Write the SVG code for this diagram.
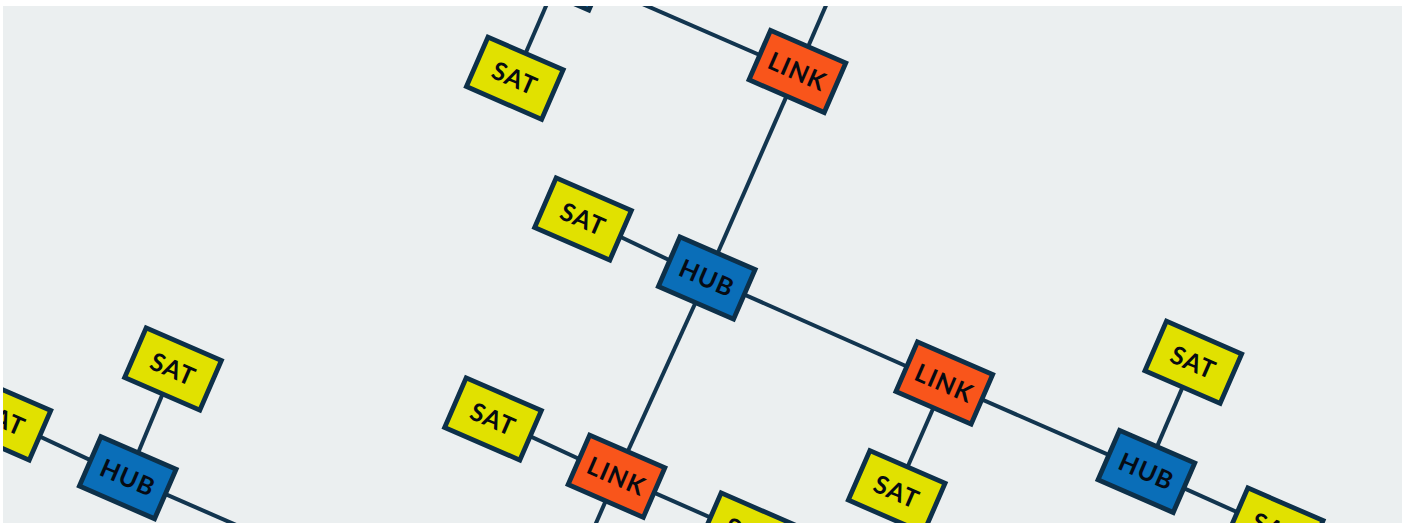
<svg xmlns="http://www.w3.org/2000/svg" width="1407" height="525" viewBox="0 0 1407 525">
<style>
.bg{fill:#ebeff0}
.edge{stroke:#12354f;stroke-width:4;fill:none;stroke-linecap:butt}
.box{stroke:#0d3049;stroke-width:4.8}
.hub{fill:#0a6eb8}
.link{fill:#f9551b}
.sat{fill:#e1e100}
.lbl{font-family:Lato,"Open Sans",sans-serif;font-weight:700;font-size:25px;letter-spacing:1px;fill:#060a12;text-anchor:middle}
</style>
<defs>
<clipPath id="frame"><rect x="3" y="6" width="1399" height="517"/></clipPath>
<rect id="nb" x="-41" y="-27" width="82" height="54"/>
</defs>
<rect width="1407" height="525" fill="#ffffff"/>
<g clip-path="url(#frame)">
<rect class="bg" x="3" y="6" width="1399" height="517"/>
<g id="connectors" class="edge">
<line x1="562" y1="-31" x2="797.4" y2="71.4"/>
<line x1="562" y1="-31" x2="514.8" y2="78.2"/>
<line x1="797.4" y1="71.4" x2="837" y2="-20"/>
<line x1="797.4" y1="71.4" x2="706.75" y2="278"/>
<line x1="583" y1="219" x2="706.75" y2="278"/>
<line x1="706.75" y1="278" x2="944.3" y2="383"/>
<line x1="944.3" y1="383" x2="1146.4" y2="471.4"/>
<line x1="944.3" y1="383" x2="896.7" y2="491.7"/>
<line x1="1146.4" y1="471.4" x2="1193.3" y2="362.3"/>
<line x1="1146.4" y1="471.4" x2="1274.7" y2="529"/>
<line x1="706.75" y1="278" x2="616.5" y2="476.2"/>
<line x1="616.5" y1="476.2" x2="493" y2="419"/>
<line x1="616.5" y1="476.2" x2="748" y2="534"/>
<line x1="616.5" y1="476.2" x2="584.5" y2="549.6"/>
<line x1="127.75" y1="477.65" x2="173" y2="369"/>
<line x1="127.75" y1="477.65" x2="2.4" y2="419"/>
<line x1="127.75" y1="477.65" x2="265.3" y2="537.7"/>
</g>
<g id="hub-tl" transform="translate(562,-31) rotate(23.5)"><use href="#nb" class="box hub"/><text class="lbl" y="9">HUB</text></g>
<g id="sat-tl" transform="translate(514.8,78.2) rotate(23.5)"><use href="#nb" class="box sat"/><text class="lbl" y="9">SAT</text></g>
<g id="link-t" transform="translate(797.4,71.4) rotate(23.5)"><use href="#nb" class="box link"/><text class="lbl" y="9">LINK</text></g>
<g id="sat-a" transform="translate(583,219) rotate(23.5)"><use href="#nb" class="box sat"/><text class="lbl" y="9">SAT</text></g>
<g id="hub-a" transform="translate(706.75,278) rotate(23.5)"><use href="#nb" class="box hub"/><text class="lbl" y="9">HUB</text></g>
<g id="link-r" transform="translate(944.3,383) rotate(23.5)"><use href="#nb" class="box link"/><text class="lbl" y="9">LINK</text></g>
<g id="sat-lr" transform="translate(896.7,491.7) rotate(23.5)"><use href="#nb" class="box sat"/><text class="lbl" y="9">SAT</text></g>
<g id="hub-r" transform="translate(1146.4,471.4) rotate(23.5)"><use href="#nb" class="box hub"/><text class="lbl" y="9">HUB</text></g>
<g id="sat-ra" transform="translate(1193.3,362.3) rotate(23.5)"><use href="#nb" class="box sat"/><text class="lbl" y="9">SAT</text></g>
<g id="sat-rr" transform="translate(1274.7,529) rotate(23.5)"><use href="#nb" class="box sat"/><text class="lbl" y="9">SAT</text></g>
<g id="link-b" transform="translate(616.5,476.2) rotate(23.5)"><use href="#nb" class="box link"/><text class="lbl" y="9">LINK</text></g>
<g id="sat-bl" transform="translate(493,419) rotate(23.5)"><use href="#nb" class="box sat"/><text class="lbl" y="9">SAT</text></g>
<g id="sat-br" transform="translate(748,534) rotate(23.5)"><use href="#nb" class="box sat"/><text class="lbl" y="9">SAT</text></g>
<g id="hub-bl" transform="translate(127.75,477.65) rotate(23.5)"><use href="#nb" class="box hub"/><text class="lbl" y="9">HUB</text></g>
<g id="sat-bla" transform="translate(173,369) rotate(23.5)"><use href="#nb" class="box sat"/><text class="lbl" y="9">SAT</text></g>
<g id="sat-bll" transform="translate(2.4,419) rotate(23.5)"><use href="#nb" class="box sat"/><text class="lbl" y="9">SAT</text></g>
</g>
</svg>
